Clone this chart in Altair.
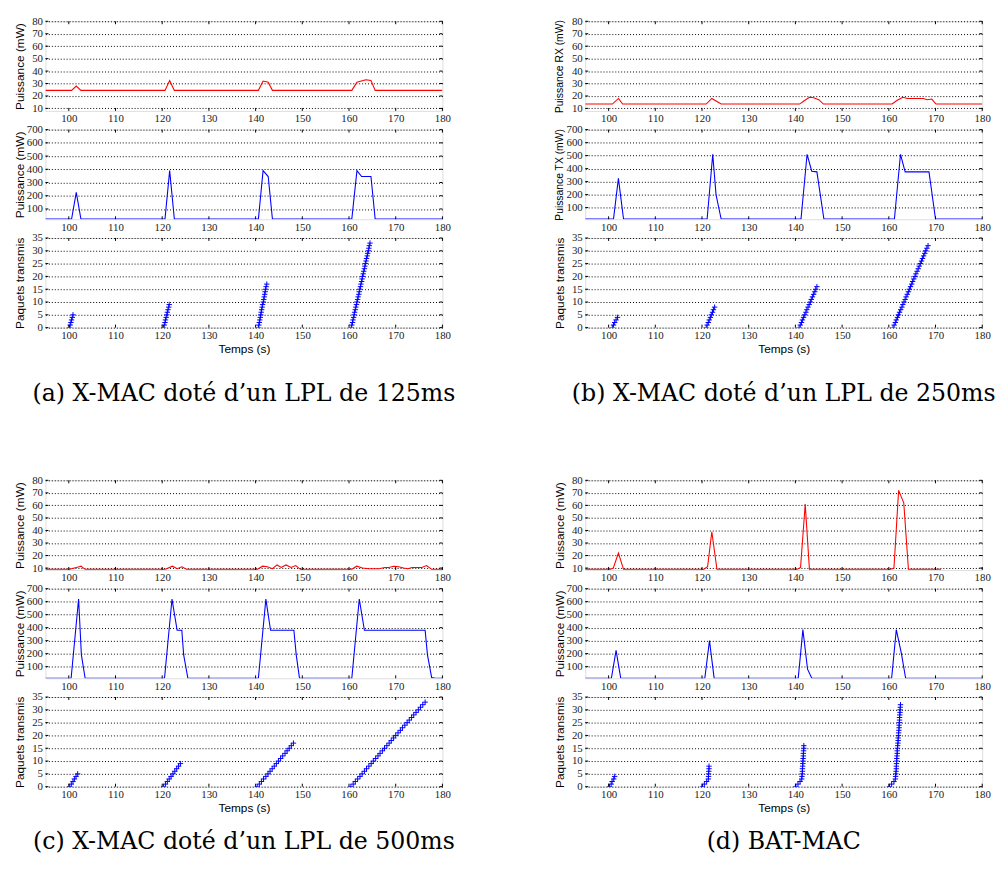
import altair as alt
import pandas as pd

# ---------------- axis ticks ----------------
X_TICKS = [100, 110, 120, 130, 140, 150, 160, 170, 180]
P_TICKS = [10, 20, 30, 40, 50, 60, 70, 80]
TX_TICKS = [100, 200, 300, 400, 500, 600, 700]
PK_TICKS = [0, 5, 10, 15, 20, 25, 30, 35]

# ---------------- panel (a) X-MAC LPL 125ms ----------------
a_rx_t = [95, 100.6, 101.6, 102.6, 120.6, 121.6, 122.6, 140.6, 141.6, 142.7, 143.6,
          160.6, 161.7, 163.6, 164.7, 165.6, 180]
a_rx_v = [24.5, 24.5, 28, 24.5, 24.5, 32.5, 24.5, 24.5, 32, 31, 24.5,
          24.5, 31, 33, 32.5, 24.5, 24.5]
a_tx_t = [95, 100.6, 101.6, 102.6, 120.6, 121.6, 122.6, 140.6, 141.6, 142.7, 143.6,
          160.6, 161.7, 162.7, 164.7, 165.6, 180]
a_tx_v = [24, 24, 225, 24, 24, 390, 24, 24, 390, 345, 24,
          24, 390, 345, 345, 24, 24]
a_pk_b1 = [100.15, 100.3, 100.45, 100.6, 100.75, 100.9]
a_pk_b2 = [120.3, 120.45, 120.6, 120.7, 120.85, 121.0, 121.1, 121.25, 121.4, 121.5]
a_pk_b3 = [140.6, 140.7, 140.8, 140.9, 141.0, 141.1, 141.2, 141.3, 141.4, 141.5,
           141.65, 141.75, 141.85, 141.95, 142.05, 142.15, 142.25, 142.4]
a_pk_b4 = [160.5, 160.6, 160.75, 160.85, 161.0, 161.1, 161.2, 161.35, 161.45, 161.6,
           161.7, 161.85, 161.95, 162.1, 162.2, 162.3, 162.45, 162.55, 162.7, 162.8,
           162.9, 163.05, 163.15, 163.3, 163.4, 163.5, 163.65, 163.75, 163.9, 164.0,
           164.15, 164.25, 164.35, 164.5]

# ---------------- panel (b) X-MAC LPL 250ms ----------------
b_rx_t = [95, 100.8, 102.1, 103.0, 120.9, 122.1, 123.2, 124.1, 140.9, 141.8, 143.0,
          143.9, 145.0, 146.0, 160.7, 161.8, 163.0, 164.0, 166.0, 167.4, 168.2, 169.2,
          170.1, 180]
b_rx_v = [13.5, 13.5, 18, 13.5, 13.5, 18, 15.5, 13.5, 13.5, 16, 19,
          18.5, 17, 13.5, 13.5, 16.5, 19, 18, 18, 18, 17, 17.5,
          13.5, 13.5]
b_tx_t = [95, 101.05, 102.1, 103.2, 121.1, 122.3, 123.0, 124.1, 141.2, 142.5, 143.5,
          144.6, 146.1, 161.2, 162.5, 163.5, 168.6, 170.0, 180]
b_tx_v = [12, 12, 325, 12, 12, 510, 200, 12, 12, 510, 380,
          375, 12, 12, 510, 375, 375, 12, 12]
b_pk_b1 = [100.8, 101.05, 101.3, 101.6, 101.9]
b_pk_b2 = [120.9, 121.1, 121.35, 121.55, 121.8, 122.0, 122.25, 122.45, 122.7]
b_pk_b3 = [140.8, 141.05, 141.3, 141.5, 141.75, 142.0, 142.25, 142.45, 142.7, 142.95,
           143.2, 143.4, 143.65, 143.9, 144.15, 144.35, 144.6]
b_pk_b4 = [160.9, 161.15, 161.4, 161.6, 161.85, 162.05, 162.3, 162.55, 162.8, 163.0,
           163.25, 163.5, 163.7, 163.95, 164.2, 164.4, 164.65, 164.9, 165.1, 165.35,
           165.6, 165.8, 166.05, 166.3, 166.5, 166.75, 167.0, 167.2, 167.45, 167.7,
           167.9, 168.15, 168.4]

# ---------------- panel (c) X-MAC LPL 500ms ----------------
c_rx_t = [95, 100.2, 102.2, 102.6, 103.5, 120.7, 122.2, 123.2, 124.2, 125.2,
          140.4, 141.5, 142.5, 143.6, 144.6, 145.5, 146.5, 147.6, 148.6, 149.6,
          160.6, 161.65, 162.9, 164.3, 166.4, 167.7, 168.5, 169.6, 170.6, 171.7,
          172.6, 173.5, 174.8, 175.6, 176.6, 177.7, 180]
c_rx_v = [9, 9, 11, 11.5, 9, 9, 11.5, 9.5, 11, 9,
          9, 11.5, 11, 9.5, 12.5, 10.5, 12.5, 10.5, 12, 9,
          9, 11.5, 10, 9.5, 9.5, 10.5, 10.5, 11.5, 11, 10,
          9.5, 10.5, 10.5, 10.5, 12, 9, 9]
c_tx_t = [95, 100.5, 102.1, 102.7, 103.5, 120.5, 122.1, 123.2, 124.2, 124.6, 125.5,
          140.6, 142.2, 143.2, 148.2, 148.7, 149.4, 160.6, 162.2, 163.3, 176.3,
          176.8, 177.7, 178.3, 180]
c_tx_v = [10, 10, 620, 190, 10, 10, 620, 380, 380, 190, 10,
          10, 620, 380, 380, 190, 10, 10, 620, 380, 380,
          190, 15, 12, 10]
c_pk_b1 = [100.2, 100.55, 100.9, 101.2, 101.55, 101.9]
c_pk_b2 = [120.3, 120.7, 121.1, 121.5, 121.9, 122.3, 122.7, 123.1, 123.5, 123.9]
c_pk_b3 = [140.35, 140.8, 141.25, 141.7, 142.2, 142.65, 143.1, 143.55, 144.0, 144.45,
           144.9, 145.35, 145.8, 146.3, 146.75, 147.2, 147.65, 148.1]
c_pk_b4 = [160.4, 160.9, 161.35, 161.85, 162.35, 162.8, 163.3, 163.75, 164.25, 164.75,
           165.2, 165.7, 166.2, 166.65, 167.15, 167.6, 168.1, 168.6, 169.05, 169.55,
           170.0, 170.5, 171.0, 171.45, 171.95, 172.45, 172.9, 173.4, 173.85, 174.35,
           174.85, 175.3, 175.8, 176.3]

# ---------------- panel (d) BAT-MAC ----------------
d_rx_t = [95, 100.4, 101.0, 102.1, 103.2, 120.4, 121.2, 122.1, 123.2, 140.4, 141.1,
          142.1, 143.0, 160.4, 161.1, 162.1, 163.2, 164.2, 171.2]
d_rx_v = [9, 9, 10, 22, 9, 9, 11, 39, 9, 9, 10.5,
          61, 9, 9, 10, 72, 62, 9, 9]
d_tx_t = [95, 100.6, 101.6, 102.6, 120.6, 121.6, 122.6, 140.6, 141.6, 142.6, 143.5,
          160.6, 161.6, 162.7, 163.6, 180]
d_tx_v = [10, 10, 225, 10, 10, 300, 10, 10, 385, 80, 10,
          10, 385, 200, 10, 10]
d_pk_b1 = [100.2, 100.55, 100.75, 101.1, 101.3]
d_pk_b2 = [120.1, 120.5, 121.0, 121.35, 121.4, 121.4, 121.45, 121.5, 121.5]
d_pk_b3 = [140.1, 140.55, 141.0, 141.35, 141.4, 141.45, 141.5, 141.5, 141.55, 141.6,
           141.6, 141.65, 141.7, 141.7, 141.75, 141.8, 141.8]
d_pk_b4 = [160.15, 160.6, 161.1, 161.4, 161.45, 161.5, 161.55, 161.6, 161.6, 161.65,
           161.7, 161.7, 161.75, 161.8, 161.8, 161.85, 161.9, 161.95, 162.0, 162.0,
           162.05, 162.1, 162.15, 162.2, 162.2, 162.25, 162.3, 162.3, 162.35, 162.4,
           162.4, 162.45, 162.5]

CAPTIONS = ["(a) X-MAC doté d\u2019un LPL de 125ms", "(b) X-MAC doté d\u2019un LPL de 250ms",
            "(c) X-MAC doté d\u2019un LPL de 500ms", "(d) BAT-MAC"]

# ---------------- styling ----------------
W = 403
H = 91
SERIF = "Liberation Serif"
SANS = "Liberation Sans"
RED = "#ff0000"
BLUE = "#0000ff"
TICK = 3


def burst_frame(bursts):
    rows = []
    for i, times in enumerate(bursts):
        for k, t in enumerate(times):
            rows.append({"t": t, "v": k, "b": i})
    return pd.DataFrame(rows)


def subplot(df, kind, color, ydom, yticks, ytitle, ytsize, xtitle=None, caption=None,
            cap_offset=30):
    xs = alt.Scale(domain=[95, 180], nice=False, zero=False)
    ys = alt.Scale(domain=ydom, nice=False, zero=False)
    xaxis_kw = dict(values=X_TICKS, grid=False, domain=False, ticks=False,
                    labelFont=SERIF, labelFontSize=11, labelColor="#222",
                    labelPadding=2, labelFlush=False, labelOverlap=False)
    if xtitle:
        xaxis = alt.Axis(title=xtitle, titleFont=SANS, titleFontSize=12,
                         titleFontWeight="normal", titleColor="#000",
                         titlePadding=3, **xaxis_kw)
    else:
        xaxis = alt.Axis(title=None, **xaxis_kw)
    yaxis = alt.Axis(values=yticks, title=ytitle, grid=True, gridColor="#000",
                     gridDash=[1, 2], gridOpacity=1, gridWidth=1,
                     domain=False, ticks=False, labelFont=SERIF, labelFontSize=11,
                     labelColor="#222", labelPadding=3, labelOverlap=False,
                     labelFlush=False,
                     titleFont=SANS, titleFontSize=ytsize, titleFontWeight="normal",
                     titleColor="#000", titleX=-26, titleBaseline="middle")
    enc_x = alt.X("t:Q", scale=xs, axis=xaxis)
    enc_y = alt.Y("v:Q", scale=ys, axis=yaxis)
    if kind == "line":
        main = alt.Chart(df).mark_line(color=color, strokeWidth=1.1, clip=True).encode(
            x=enc_x, y=enc_y)
    else:
        main = alt.Chart(df).mark_point(
            shape="M-1,0L1,0M0,-1L0,1", filled=False, size=30, strokeWidth=1,
            color=color, opacity=1, clip=True).encode(x=enc_x, y=enc_y, detail="b:N")
    xt = pd.DataFrame({"t": X_TICKS})
    yt = pd.DataFrame({"v": yticks})
    tick_top = alt.Chart(xt).mark_rule(color="#000", strokeWidth=1).encode(
        x=enc_x, y=alt.value(0), y2=alt.value(TICK))
    tick_bot = alt.Chart(xt).mark_rule(color="#000", strokeWidth=1).encode(
        x=enc_x, y=alt.value(H - TICK), y2=alt.value(H))
    tick_l = alt.Chart(yt).mark_rule(color="#000", strokeWidth=1).encode(
        y=enc_y, x=alt.value(0), x2=alt.value(TICK))
    tick_r = alt.Chart(yt).mark_rule(color="#000", strokeWidth=1).encode(
        y=enc_y, x=alt.value(W - TICK), x2=alt.value(W))
    ch = alt.layer(main, tick_top, tick_bot, tick_l, tick_r).properties(width=W, height=H)
    if caption:
        ch = ch.properties(title=alt.Title(caption, orient="bottom", anchor="middle",
                                           font="DejaVu Serif", fontSize=24,
                                           fontWeight="normal", color="#000",
                                           offset=cap_offset))
    return ch


def panel(rx_t, rx_v, tx_t, tx_v, bursts, rx_dom, tx_dom, rx_title, tx_title,
          ttsize, caption, cap_offset):
    p1 = subplot(pd.DataFrame({"t": rx_t, "v": rx_v}), "line", RED, rx_dom, P_TICKS,
                 rx_title, ttsize)
    p2 = subplot(pd.DataFrame({"t": tx_t, "v": tx_v}), "line", BLUE, tx_dom, TX_TICKS,
                 tx_title, ttsize)
    p3 = subplot(burst_frame(bursts), "points", BLUE, [0, 35], PK_TICKS,
                 "Paquets transmis", 12, xtitle="Temps (s)", caption=caption,
                 cap_offset=cap_offset)
    return [p1, p2, p3]


def spacer(h):
    return alt.Chart(pd.DataFrame({"t": [0]})).mark_point(opacity=0).encode(
        x=alt.value(0), y=alt.value(0)).properties(
        width=W, height=h, view=alt.ViewBackground(strokeOpacity=0))


pa = panel(a_rx_t, a_rx_v, a_tx_t, a_tx_v, [a_pk_b1, a_pk_b2, a_pk_b3, a_pk_b4],
           [8, 80], [22, 700], "Puissance (mW)", "Puissance (mW)", 12, CAPTIONS[0], 28)
pb = panel(b_rx_t, b_rx_v, b_tx_t, b_tx_v, [b_pk_b1, b_pk_b2, b_pk_b3, b_pk_b4],
           [8, 80], [10, 700], "Puissance RX (mW)", "Puissance TX (mW)", 10.5,
           CAPTIONS[1], 28)
pc = panel(c_rx_t, c_rx_v, c_tx_t, c_tx_v, [c_pk_b1, c_pk_b2, c_pk_b3, c_pk_b4],
           [8.5, 80], [10, 700], "Puissance (mW)", "Puissance (mW)", 12, CAPTIONS[2], 17)
pd_ = panel(d_rx_t, d_rx_v, d_tx_t, d_tx_v, [d_pk_b1, d_pk_b2, d_pk_b3, d_pk_b4],
            [8.5, 80], [10, 700], "Puissance (mW)", "Puissance (mW)", 12, CAPTIONS[3], 17)

cells = []
for i in range(3):
    cells += [pa[i], pb[i]]
cells += [spacer(117), spacer(117)]
for i in range(3):
    cells += [pc[i], pd_[i]]

chart = alt.concat(*cells, columns=2, spacing={"row": 19, "column": 145},
                   bounds="flush").properties(
    padding={"left": 5, "top": 0, "right": 0, "bottom": 0}
).configure_view(stroke="#000", strokeWidth=1).configure(background="white")

chart.save("out.html", embed_options={"renderer": "svg", "actions": False})
